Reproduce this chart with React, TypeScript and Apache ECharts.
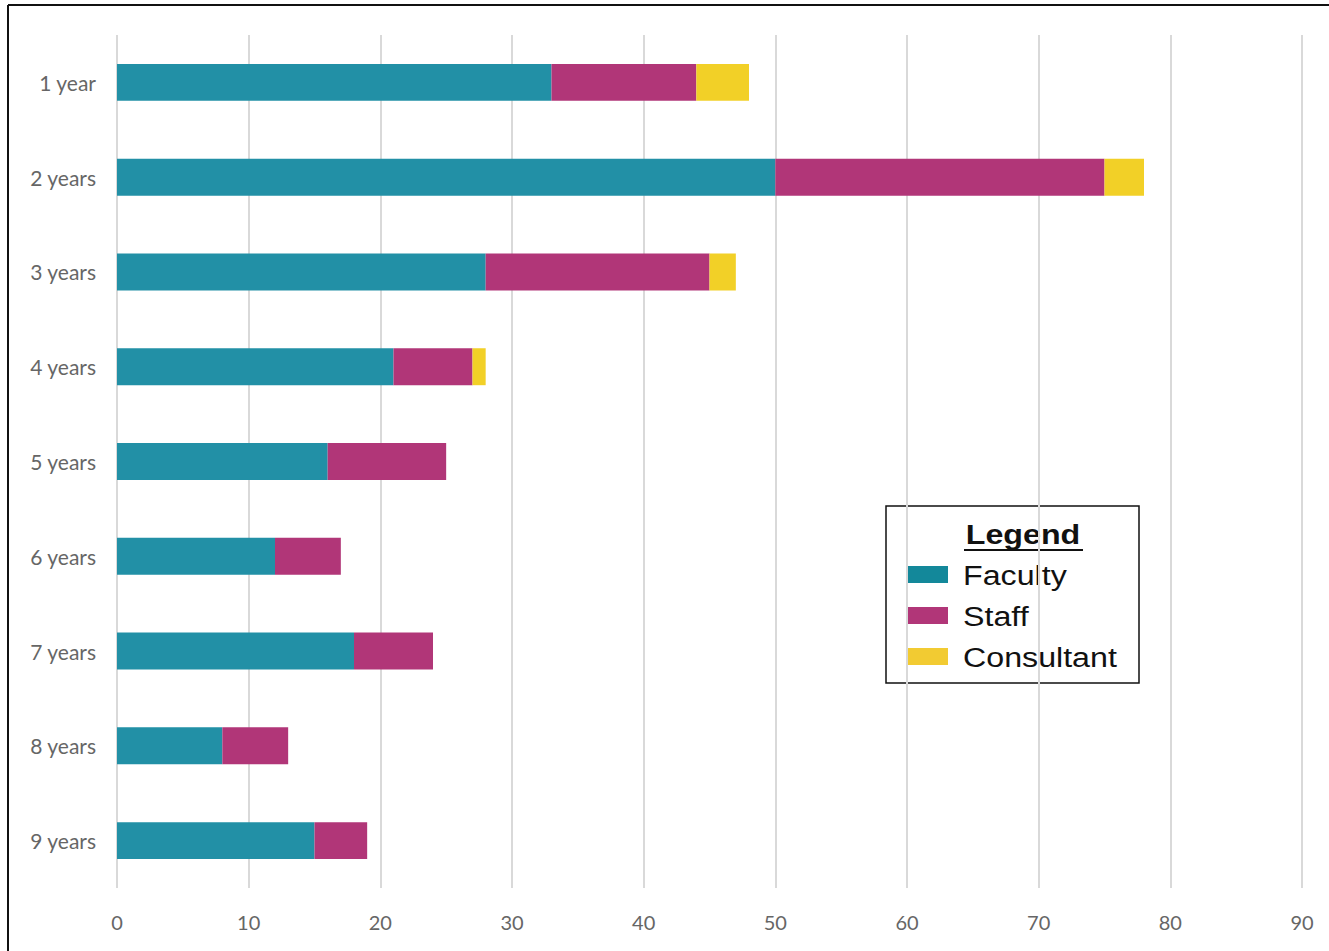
import React, { useEffect, useRef } from "react";
import * as echarts from "echarts";

// Tenure bands shown top to bottom
const categories = ["1 year", "2 years", "3 years", "4 years", "5 years", "6 years", "7 years", "8 years", "9 years"];
const faculty = [33, 50, 28, 21, 16, 12, 18, 8, 15];
const staff = [11, 25, 17, 6, 9, 5, 6, 5, 4];
const consultant = [4, 3, 2, 1, 0, 0, 0, 0, 0];
const xTicks = { min: 0, max: 90, interval: 10 };

const seriesNames = ["Faculty", "Staff", "Consultant"];
const barColors = ["#2290A6", "#B13678", "#F2D027"];
const swatchColors = ["#13889A", "#B13678", "#F2CB32"];

export default function App() {
  const ref = useRef<HTMLDivElement>(null);

  useEffect(() => {
    if (!ref.current) return;
    const chart = echarts.init(ref.current, null, { renderer: "svg" });
    const values = [faculty, staff, consultant];

    const legendItems: any[] = seriesNames.map((name, i) => ({
      type: "group",
      children: [
        {
          type: "rect",
          shape: { x: 908, y: 566 + i * 41, width: 40, height: 17 },
          style: { fill: swatchColors[i] },
        },
        {
          type: "text",
          x: 963,
          y: 575 + i * 41,
          scaleX: 1.15,
          originX: 0,
          originY: 0,
          style: {
            text: name,
            fill: "#111",
            font: "28px 'Liberation Sans', Arial, sans-serif",
            textVerticalAlign: "middle",
          },
        },
      ],
    }));

    chart.setOption({
      animation: false,
      backgroundColor: "#fff",
      grid: { left: 117, right: 27, top: 35, bottom: 63, containLabel: false },
      xAxis: {
        type: "value",
        min: xTicks.min,
        max: xTicks.max,
        interval: xTicks.interval,
        axisLine: { show: false },
        axisTick: { show: false },
        axisLabel: {
          color: "#666",
          fontFamily: "Lato, sans-serif",
          fontSize: 20,
          margin: 24,
        },
        splitLine: { show: true, lineStyle: { color: "#d9d9d9", width: 2 } },
      },
      yAxis: {
        type: "category",
        data: categories,
        inverse: true,
        axisLine: { show: false },
        axisTick: { show: false },
        axisLabel: {
          color: "#666",
          fontFamily: "Lato, sans-serif",
          fontSize: 21,
          margin: 21,
        },
        splitLine: { show: false },
      },
      series: seriesNames.map((name, i) => ({
        name,
        type: "bar",
        stack: "total",
        barWidth: "39%",
        itemStyle: { color: barColors[i] },
        data: values[i],
      })),
      graphic: [
        // outer frame
        { type: "line", shape: { x1: 8, y1: 5, x2: 1329, y2: 5 }, style: { stroke: "#111", lineWidth: 2 } },
        { type: "line", shape: { x1: 8, y1: 5, x2: 8, y2: 951 }, style: { stroke: "#111", lineWidth: 2 } },
        // legend box
        {
          type: "rect",
          shape: { x: 886, y: 506, width: 253, height: 177 },
          style: { fill: "#fff", stroke: "#111", lineWidth: 1.5 },
        },
        {
          type: "text",
          x: 1023,
          y: 534,
          scaleX: 1.15,
          originX: 0,
          originY: 0,
          style: {
            text: "Legend",
            fill: "#111",
            font: "bold 28px 'Liberation Sans', Arial, sans-serif",
            textAlign: "center",
            textVerticalAlign: "middle",
          },
        },
        { type: "line", shape: { x1: 964, y1: 550, x2: 1083, y2: 550 }, style: { stroke: "#111", lineWidth: 2 } },
        ...legendItems,
      ],
    });

    return () => chart.dispose();
  }, []);

  return (
    <div
      ref={ref}
      style={{ position: "fixed", left: 0, top: 0, width: 1329, height: 951 }}
    />
  );
}
